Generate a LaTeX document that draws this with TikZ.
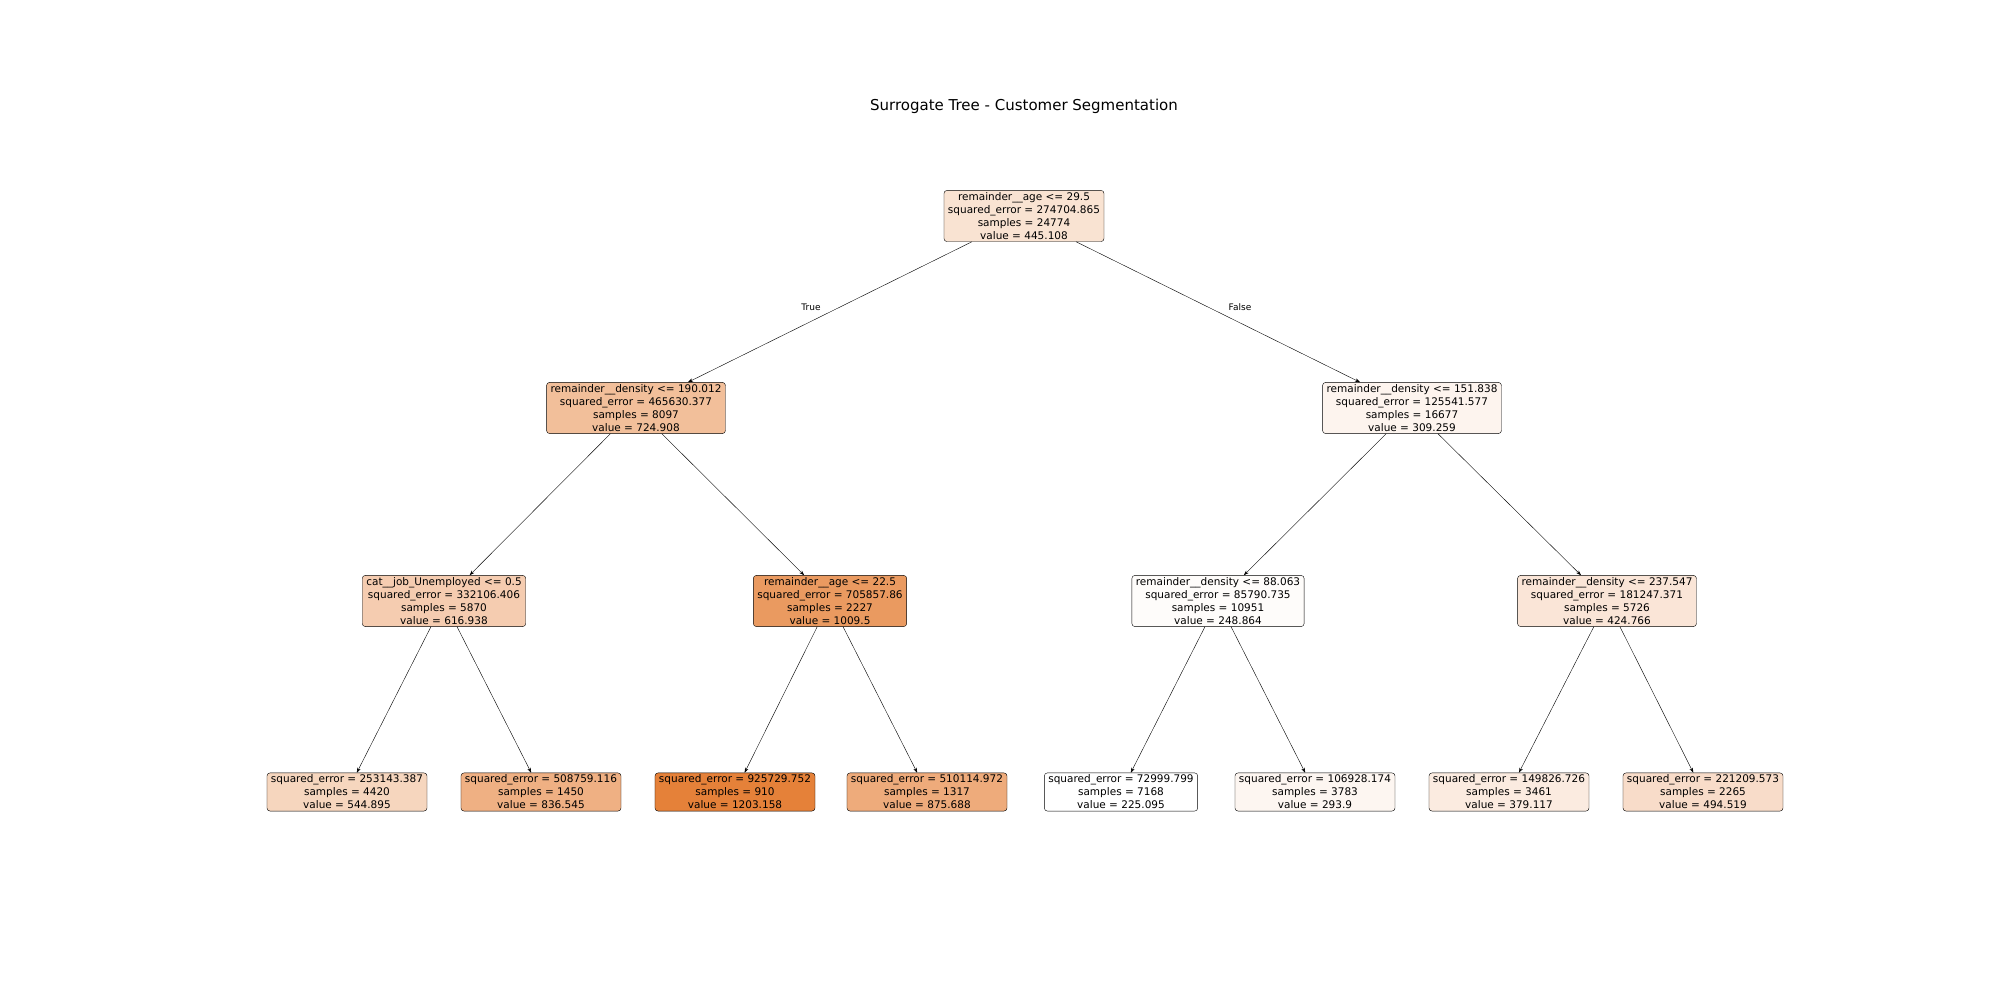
\documentclass[tikz,border=0pt]{standalone}
\usepackage{fontspec}
\setmainfont{DejaVu Sans}
\usetikzlibrary{arrows.meta}
\definecolor{treeorange}{RGB}{229,129,57}
\tikzset{
  split/.style={draw, rounded corners=3pt, align=center, inner xsep=4pt, inner ysep=2pt,
    font=\fontsize{10.5}{13}\selectfont},
  edge/.style={-{Stealth[length=5pt,width=3.5pt]}, thin},
}
\begin{document}
\begin{tikzpicture}[x=1pt, y=1pt]
\useasboundingbox (0,0) rectangle (2000,1000);
\node (title) at (1024,894) {\fontsize{15}{18}\selectfont Surrogate Tree - Customer Segmentation};

% root and first split
\node[split, fill=treeorange!22.5!white] (root) at (1024,784) {remainder\_\_age <= 29.5\\squared\_error = 274704.865\\samples = 24774\\value = 445.108};
\node[split, fill=treeorange!51.1!white] (l) at (636,592) {remainder\_\_density <= 190.012\\squared\_error = 465630.377\\samples = 8097\\value = 724.908};
\node[split, fill=treeorange!8.6!white] (r) at (1412,592) {remainder\_\_density <= 151.838\\squared\_error = 125541.577\\samples = 16677\\value = 309.259};

% second level
\node[split, fill=treeorange!40.1!white] (ll) at (444,399) {cat\_\_job\_Unemployed <= 0.5\\squared\_error = 332106.406\\samples = 5870\\value = 616.938};
\node[split, fill=treeorange!80.2!white] (lr) at (830,399) {remainder\_\_age <= 22.5\\squared\_error = 705857.86\\samples = 2227\\value = 1009.5};
\node[split, fill=treeorange!2.4!white] (rl) at (1218,399) {remainder\_\_density <= 88.063\\squared\_error = 85790.735\\samples = 10951\\value = 248.864};
\node[split, fill=treeorange!20.4!white] (rr) at (1607,399) {remainder\_\_density <= 237.547\\squared\_error = 181247.371\\samples = 5726\\value = 424.766};

% leaves
\node[split, fill=treeorange!32.7!white] (lll) at (347,208) {squared\_error = 253143.387\\samples = 4420\\value = 544.895};
\node[split, fill=treeorange!62.5!white] (llr) at (541,208) {squared\_error = 508759.116\\samples = 1450\\value = 836.545};
\node[split, fill=treeorange!100!white] (lrl) at (735,208) {squared\_error = 925729.752\\samples = 910\\value = 1203.158};
\node[split, fill=treeorange!66.5!white] (lrr) at (927,208) {squared\_error = 510114.972\\samples = 1317\\value = 875.688};
\node[split, fill=white] (rll) at (1121,208) {squared\_error = 72999.799\\samples = 7168\\value = 225.095};
\node[split, fill=treeorange!7!white] (rlr) at (1315,208) {squared\_error = 106928.174\\samples = 3783\\value = 293.9};
\node[split, fill=treeorange!15.7!white] (rrl) at (1509,208) {squared\_error = 149826.726\\samples = 3461\\value = 379.117};
\node[split, fill=treeorange!27.5!white] (rrr) at (1703,208) {squared\_error = 221209.573\\samples = 2265\\value = 494.519};

\foreach \a/\b in {root/l, root/r, l/ll, l/lr, r/rl, r/rr, ll/lll, ll/llr, lr/lrl, lr/lrr, rl/rll, rl/rlr, rr/rrl, rr/rrr}
  \draw[edge] (\a) -- (\b);

\node[font=\fontsize{9}{11}\selectfont] (true) at (811,693) {True};
\node[font=\fontsize{9}{11}\selectfont] (false) at (1240,693) {False};
\end{tikzpicture}
\end{document}
